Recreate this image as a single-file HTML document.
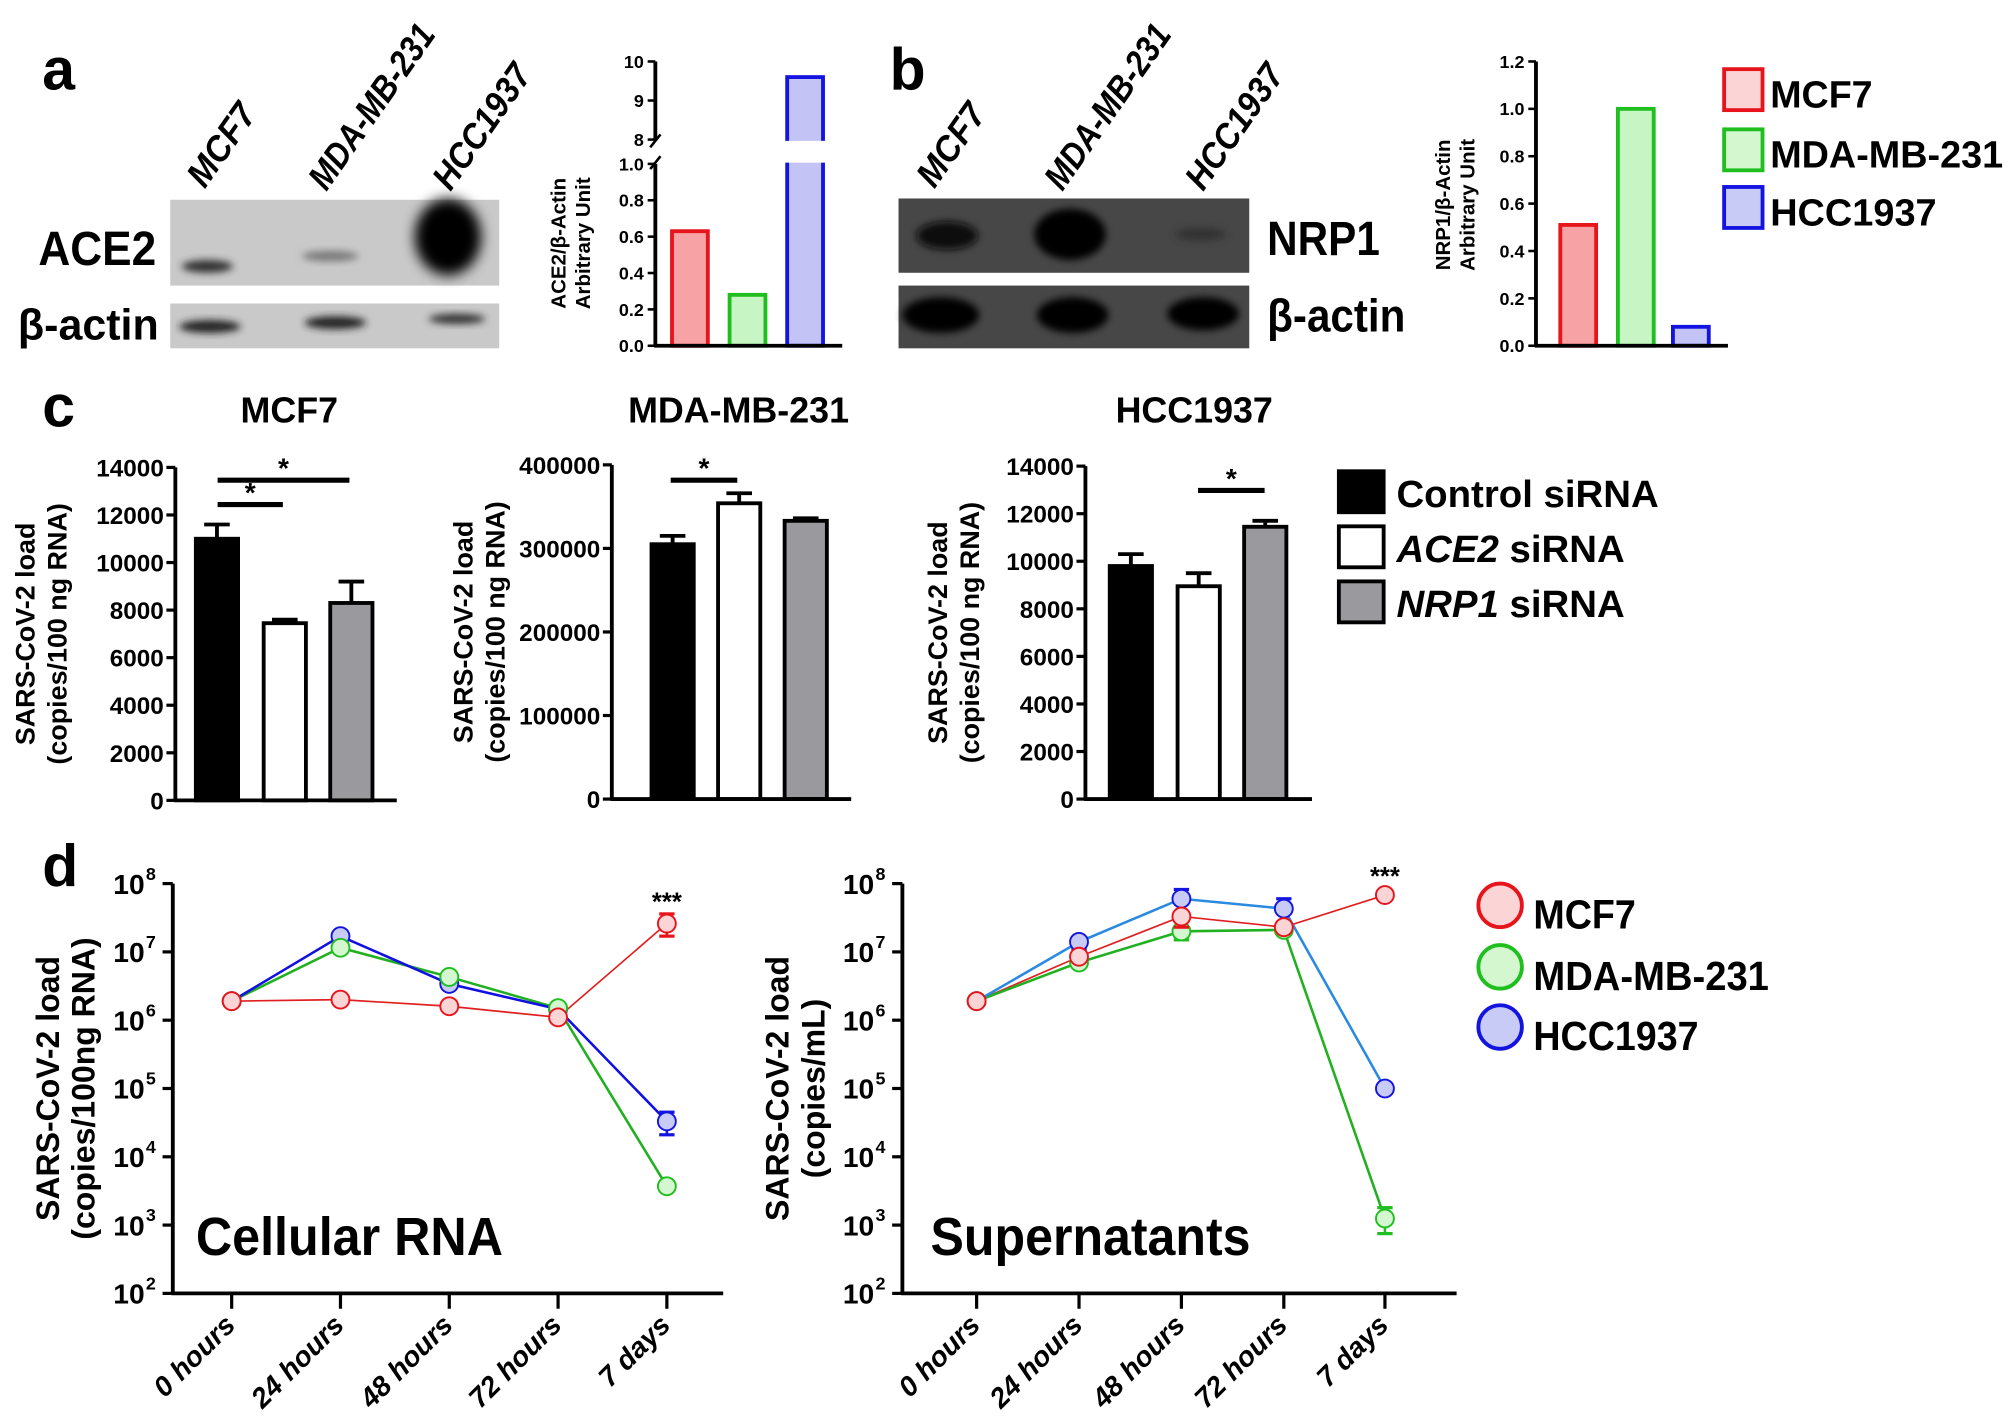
<!DOCTYPE html>
<html><head><meta charset="utf-8"><style>
html,body{margin:0;padding:0;background:#fff;}
svg{display:block;}
text{font-family:"Liberation Sans Narrow","Liberation Sans",sans-serif;font-weight:bold;fill:#000;}
.ax{stroke:#000;stroke-width:3;fill:none;}
.sans{font-family:"Liberation Sans",sans-serif;}
</style></head><body>
<svg id="fig" width="2007" height="1424" viewBox="0 0 1568 1112" preserveAspectRatio="none" xmlns="http://www.w3.org/2000/svg">
<defs>
<filter id="blur" x="-50%" y="-50%" width="200%" height="200%"><feGaussianBlur stdDeviation="5"/></filter>
<filter id="blur2" x="-50%" y="-50%" width="200%" height="200%"><feGaussianBlur stdDeviation="3"/></filter>
</defs>
<text x="33" y="70" font-size="46">a</text>
<text x="695" y="70" font-size="46">b</text>
<text x="33" y="333" font-size="46">c</text>
<text x="33" y="692" font-size="46">d</text>

<g>
<text transform="translate(160,148) rotate(-55)" font-size="28" font-style="italic" textLength="72" lengthAdjust="spacingAndGlyphs">MCF7</text>
<text transform="translate(255,150) rotate(-55)" font-size="28" font-style="italic" textLength="150" lengthAdjust="spacingAndGlyphs">MDA-MB-231</text>
<text transform="translate(352,150) rotate(-55)" font-size="28" font-style="italic" textLength="112" lengthAdjust="spacingAndGlyphs">HCC1937</text>
<rect x="133" y="156" width="257" height="67" fill="#c9c9c9"/>
<ellipse cx="162" cy="208" rx="20" ry="5" fill="#333" filter="url(#blur2)"/>
<ellipse cx="258" cy="200" rx="22" ry="4" fill="#777" filter="url(#blur2)"/>
<ellipse cx="350" cy="185" rx="26" ry="30" fill="#050505" filter="url(#blur)"/>
<rect x="133" y="237" width="257" height="35" fill="#c9c9c9"/>
<ellipse cx="164" cy="255" rx="24" ry="5" fill="#222" filter="url(#blur2)"/>
<ellipse cx="262" cy="252" rx="24" ry="5" fill="#222" filter="url(#blur2)"/>
<ellipse cx="357" cy="249" rx="22" ry="4" fill="#333" filter="url(#blur2)"/>
<text x="30" y="207" font-size="38" textLength="92" lengthAdjust="spacingAndGlyphs">ACE2</text>
<text x="14" y="265" font-size="34" textLength="110" lengthAdjust="spacingAndGlyphs">β-actin</text>
</g>

<g>
<text transform="translate(730,148) rotate(-55)" font-size="28" font-style="italic" textLength="72" lengthAdjust="spacingAndGlyphs">MCF7</text>
<text transform="translate(830,150) rotate(-55)" font-size="28" font-style="italic" textLength="150" lengthAdjust="spacingAndGlyphs">MDA-MB-231</text>
<text transform="translate(940,150) rotate(-55)" font-size="28" font-style="italic" textLength="112" lengthAdjust="spacingAndGlyphs">HCC1937</text>
<rect x="702" y="155" width="274" height="58" fill="#474747"/>
<ellipse cx="740" cy="184" rx="24" ry="11" fill="#080808" filter="url(#blur2)"/>
<ellipse cx="836" cy="183" rx="28" ry="20" fill="#020202" filter="url(#blur2)"/>
<ellipse cx="938" cy="183" rx="20" ry="5" fill="#333" filter="url(#blur2)"/>
<rect x="702" y="223" width="274" height="49" fill="#474747"/>
<ellipse cx="735" cy="246" rx="30" ry="14" fill="#050505" filter="url(#blur2)"/>
<ellipse cx="838" cy="246" rx="28" ry="14" fill="#050505" filter="url(#blur2)"/>
<ellipse cx="940" cy="245" rx="28" ry="13" fill="#050505" filter="url(#blur2)"/>
<text x="990" y="199" font-size="38" textLength="88" lengthAdjust="spacingAndGlyphs">NRP1</text>
<text x="990" y="259" font-size="36" textLength="108" lengthAdjust="spacingAndGlyphs">β-actin</text>
</g>

<g id="charts"></g>
</svg>
<script>
const cellLines = ["MCF7","MDA-MB-231","HCC1937"];
const ace2Values = [0.63, 0.28, 9.6];
const nrp1Values = [0.51, 1.0, 0.08];
const ace2TicksLow = [0,0.2,0.4,0.6,0.8,1.0];
const ace2TicksHigh = [8,9,10];
const nrp1Ticks = [0,0.2,0.4,0.6,0.8,1.0,1.2];
const siGroups = ["Control siRNA","ACE2 siRNA","NRP1 siRNA"];
const mcf7Means = [11000, 7450, 8300];
const mcf7Errs = [600, 150, 900];
const mdaMeans = [305000, 354000, 333000];
const mdaErrs = [10000, 12000, 3000];
const hccMeans = [9800, 8950, 11450];
const hccErrs = [500, 550, 250];
const ticks14k = [0,2000,4000,6000,8000,10000,12000,14000];
const ticks400k = [0,100000,200000,300000,400000];
const timepoints = ["0 hours","24 hours","48 hours","72 hours","7 days"];
const cellMCF7 = [1.9e6, 2.0e6, 1.6e6, 1.1e6, 2.6e7];
const cellMDA = [1.9e6, 1.15e7, 4.3e6, 1.5e6, 3.7e3];
const cellHCC = [1.9e6, 1.7e7, 3.4e6, 1.45e6, 3.3e4];
const cellErrLow = [[0,0,0,0,1.7e7],[0,0,0,0,0],[0,0,0,0,2.1e4]];
const cellErrHigh = [[0,0,0,0,3.6e7],[0,0,0,0,0],[0,0,0,0,4.5e4]];
const supMCF7 = [1.9e6, 8.5e6, 3.3e7, 2.3e7, 6.8e7];
const supMDA = [1.9e6, 7.0e6, 2.0e7, 2.1e7, 1.25e3];
const supHCC = [1.9e6, 1.4e7, 6.0e7, 4.3e7, 1.0e5];
const supErrLow = [[0,0,2.3e7,0,0],[0,0,1.5e7,0,7.5e2],[0,1.1e7,0,0,0]];
const supErrHigh = [[0,0,0,0,0],[0,0,0,0,1.8e3],[0,0,8.2e7,6.0e7,0]];
const logTicks = [2,3,4,5,6,7,8];

const NS="http://www.w3.org/2000/svg";
const root=document.getElementById('charts');
function el(tag,attrs,parent,txt){const e=document.createElementNS(NS,tag);for(const k in attrs)e.setAttribute(k,attrs[k]);if(txt!==undefined)e.textContent=txt;(parent||root).appendChild(e);return e;}
function grp(name){const g=el('g',{});return g;}

const strokeC=["#e8141c","#1fbf1f","#1414e0"];
const fillC=["#f7a3a6","#c8f5c4","#c3c4f5"];
const legFill=["#fbd5d6","#d4f7d0","#c9cbf7"];

(function(){
  const g=grp('ace2-quant-chart');
  const x0=512, y0=270, yLowTop=128, yB8=109, yB10=48;
  const yLow=v=>y0-(v/1.0)*(y0-yLowTop);
  const yHigh=v=>yB8-(v-8)/2*(yB8-yB10);
  const yv=v=>v<=1?yLow(v):yHigh(v);
  const bx=[525,570,615], bw=28;
  ace2Values.forEach((v,i)=>{
    const r=el('rect',{x:bx[i],y:yv(v),width:bw,height:y0-yv(v),fill:fillC[i],stroke:strokeC[i],'stroke-width':3},g);
    
    
    if(v>1){el('rect',{x:bx[i]-3,y:yB8+1,width:bw+6,height:yLowTop-yB8-2,fill:'#fff'},g);}
  });
  el('line',{x1:x0,y1:y0,x2:x0,y2:yLowTop,class:'ax','stroke-width':2.5},g);
  el('line',{x1:x0,y1:yB8,x2:x0,y2:yB10,class:'ax','stroke-width':2.5},g);
  el('line',{x1:x0-4,y1:yLowTop+4,x2:x0+4,y2:yLowTop-6,stroke:'#000','stroke-width':2},g);
  el('line',{x1:x0-4,y1:yB8+6,x2:x0+4,y2:yB8-4,stroke:'#000','stroke-width':2},g);
  el('line',{x1:x0-1,y1:y0,x2:658,y2:y0,class:'ax'},g);
  ace2TicksLow.forEach(t=>{el('line',{x1:x0-6,y1:yLow(t),x2:x0,y2:yLow(t),stroke:'#000','stroke-width':2},g);el('text',{x:x0-9,y:yLow(t)+5,'font-size':14,'text-anchor':'end'},g,t.toFixed(1));});
  ace2TicksHigh.forEach(t=>{el('line',{x1:x0-6,y1:yHigh(t),x2:x0,y2:yHigh(t),stroke:'#000','stroke-width':2},g);el('text',{x:x0-9,y:yHigh(t)+5,'font-size':14,'text-anchor':'end'},g,String(t));});
  el('text',{transform:'translate(442,190) rotate(-90)','font-size':16,'text-anchor':'middle',class:'sans'},g,'ACE2/β-Actin');
  el('text',{transform:'translate(461,190) rotate(-90)','font-size':16,'text-anchor':'middle',class:'sans'},g,'Arbitrary Unit');
})();

(function(){
  const g=grp('nrp1-quant-chart');
  const x0=1200, y0=270, yTop=48;
  const yv=v=>y0-v/1.2*(y0-yTop);
  const bx=[1219,1264,1307], bw=28;
  nrp1Values.forEach((v,i)=>{
    const r=el('rect',{x:bx[i],y:yv(v),width:bw,height:y0-yv(v),fill:fillC[i],stroke:strokeC[i],'stroke-width':3},g);
    
    
  });
  el('line',{x1:x0,y1:y0,x2:x0,y2:yTop,class:'ax','stroke-width':2.5},g);
  el('line',{x1:x0-1,y1:y0,x2:1350,y2:y0,class:'ax'},g);
  nrp1Ticks.forEach(t=>{el('line',{x1:x0-6,y1:yv(t),x2:x0,y2:yv(t),stroke:'#000','stroke-width':2},g);el('text',{x:x0-9,y:yv(t)+5,'font-size':14,'text-anchor':'end'},g,t.toFixed(1));});
  el('text',{transform:'translate(1133,160) rotate(-90)','font-size':16,'text-anchor':'middle',class:'sans'},g,'NRP1/β-Actin');
  el('text',{transform:'translate(1152,160) rotate(-90)','font-size':16,'text-anchor':'middle',class:'sans'},g,'Arbitrary Unit');
  const lg=grp('legend-ab');
  const ly=[54,101,146];
  const lw=[80,182,130];
  cellLines.forEach((n,i)=>{
    el('rect',{x:1347,y:ly[i],width:30,height:32,fill:legFill[i],stroke:strokeC[i],'stroke-width':3},lg);
    const tx=el('text',{x:1383,y:ly[i]+30,'font-size':30,textLength:lw[i],lengthAdjust:'spacingAndGlyphs'},lg,n);
    
    
  });
})();

function barChart(name,title,titleX,x0,y0,yTop,maxV,ticks,means,errs,bx,bw,axEnd,sigs,ylx){
  const g=grp(name);
  const yv=v=>y0-v/maxV*(y0-yTop);
  el('text',{x:titleX,y:330,'font-size':28,'text-anchor':'middle'},g,title);
  const fills=['#000','#fff','#9a9a9e'];
  means.forEach((m,i)=>{
    const top=yv(m+errs[i]);
    el('line',{x1:bx[i]+bw/2,y1:yv(m),x2:bx[i]+bw/2,y2:top,stroke:'#000','stroke-width':3},g);
    el('line',{x1:bx[i]+bw/2-10,y1:top,x2:bx[i]+bw/2+10,y2:top,stroke:'#000','stroke-width':3},g);
    const r=el('rect',{x:bx[i],y:yv(m),width:bw,height:y0-yv(m),fill:fills[i],stroke:'#000','stroke-width':3},g);
    
    
  });
  el('line',{x1:x0,y1:y0,x2:x0,y2:yTop,class:'ax'},g);
  el('line',{x1:x0-1,y1:y0,x2:axEnd,y2:y0,class:'ax'},g);
  ticks.forEach(t=>{el('line',{x1:x0-7,y1:yv(t),x2:x0,y2:yv(t),stroke:'#000','stroke-width':2.5},g);el('text',{x:x0-9,y:yv(t)+7,'font-size':19,'text-anchor':'end'},g,String(t));});
  sigs.forEach(s=>{el('line',{x1:s[0],y1:s[2],x2:s[1],y2:s[2],stroke:'#000','stroke-width':4},g);el('text',{x:(s[0]+s[1])/2,y:s[2]-2,'font-size':22,'text-anchor':'middle'},g,'*');});
  const cy=(y0+yTop)/2;
  el('text',{transform:`translate(${ylx},${cy}) rotate(-90)`,'font-size':21,'text-anchor':'middle',class:'sans'},g,'SARS-CoV-2 load');
  el('text',{transform:`translate(${ylx+25},${cy}) rotate(-90)`,'font-size':21,'text-anchor':'middle',class:'sans'},g,'(copies/100 ng RNA)');
}
barChart('mcf7-sirna-chart','MCF7',226,137,625,365,14000,ticks14k,mcf7Means,mcf7Errs,[153,206,258],33,310,[[170,221,394],[170,273,375]],27);
barChart('mda-sirna-chart','MDA-MB-231',577,478,624,363,400000,ticks400k,mdaMeans,mdaErrs,[509,561,613],33,665,[[524,576,375]],369);
barChart('hcc-sirna-chart','HCC1937',933,848,624,364,14000,ticks14k,hccMeans,hccErrs,[867,920,972],33,1025,[[936,988,383]],740);
(function(){
  const lg=grp('legend-c');
  const fills=['#000','#fff','#9a9a9e'];
  const ly=[368,411,454];
  const labels=[['Control siRNA',''],['ACE2',' siRNA'],['NRP1',' siRNA']];
  labels.forEach((l,i)=>{
    el('rect',{x:1046,y:ly[i],width:35,height:32,fill:fills[i],stroke:'#000','stroke-width':3},lg);
    const t=el('text',{x:1091,y:ly[i]+28,'font-size':30,class:'sans'},lg);
    
    
    if(i===0){t.textContent=l[0];}else{el('tspan',{'font-style':'italic'},t,l[0]);el('tspan',{},t,l[1]);}
  });
})();

function logChart(name,x0,xs,axEnd,series,errL,errH,lineCols,label,labelX,labelW,ylabels,ylx,starY){
  const g=grp(name);
  const y8=690,y2=1010;
  const yv=v=>y2-(Math.log10(v)-2)/6*(y2-y8);
  el('line',{x1:x0,y1:y2,x2:x0,y2:y8,class:'ax'},g);
  el('line',{x1:x0-1,y1:y2,x2:axEnd,y2:y2,class:'ax'},g);
  logTicks.forEach(e=>{const y=y2-(e-2)/6*(y2-y8);el('line',{x1:x0-8,y1:y,x2:x0,y2:y,stroke:'#000','stroke-width':2.5},g);
    el('text',{x:x0-22,y:y+8,'font-size':22,'text-anchor':'end'},g,'10');
    el('text',{x:x0-21,y:y-3,'font-size':14},g,String(e));});
  xs.forEach((x,i)=>{el('line',{x1:x,y1:y2,x2:x,y2:y2+12,stroke:'#000','stroke-width':2.5},g);
    el('text',{transform:`translate(${x+4},${y2+26}) rotate(-45)`,'font-size':22,'font-style':'italic','text-anchor':'end',class:'sans'},g,timepoints[i]);});
  [0,1,2].forEach(si=>{
    const vals=series[si];
    el('polyline',{points:vals.map((v,i)=>xs[i]+','+yv(v)).join(' '),fill:'none',stroke:lineCols[si],'stroke-width':si===0?1.3:2},g);
  });
  [2,1,0].forEach(si=>{
    const vals=series[si];
    vals.forEach((v,i)=>{
      [errL[si][i],errH[si][i]].forEach(ev=>{if(ev>0){const ye=yv(ev);el('line',{x1:xs[i],y1:yv(v),x2:xs[i],y2:ye,stroke:strokeC[si],'stroke-width':2},g);el('line',{x1:xs[i]-6,y1:ye,x2:xs[i]+6,y2:ye,stroke:strokeC[si],'stroke-width':2.5},g);}});
      const c=el('circle',{cx:xs[i],cy:yv(v),r:7,fill:legFill[si],stroke:strokeC[si],'stroke-width':1.5},g);
      
      
    });
  });
  el('text',{x:xs[4],y:starY,'font-size':20,'text-anchor':'middle'},g,'***');
  el('text',{x:labelX,y:980,'font-size':42,textLength:labelW,lengthAdjust:'spacingAndGlyphs'},g,label);
  const cy=850;
  el('text',{transform:`translate(${ylx},${cy}) rotate(-90)`,'font-size':25,'text-anchor':'middle',class:'sans'},g,ylabels[0]);
  el('text',{transform:`translate(${ylx+28},${cy}) rotate(-90)`,'font-size':25,'text-anchor':'middle',class:'sans'},g,ylabels[1]);
}
logChart('cellular-rna-chart',135,[181,266,351,436,521],565,[cellMCF7,cellMDA,cellHCC],cellErrLow,cellErrHigh,['#e02020','#20b020','#1010e0'],'Cellular RNA',153,240,['SARS-CoV-2 load','(copies/100ng RNA)'],46,711);
logChart('supernatants-chart',705,[763,843,923,1003,1082],1138,[supMCF7,supMDA,supHCC],supErrLow,supErrHigh,['#e02020','#20b020','#2a8ae0'],'Supernatants',727,250,['SARS-CoV-2 load','(copies/mL)'],616,691);
(function(){
  const lg=grp('legend-d');
  const ly=[707,755,802];
  const lw=[80,184,129];
  cellLines.forEach((n,i)=>{
    el('circle',{cx:1172,cy:ly[i],r:17,fill:legFill[i],stroke:strokeC[i],'stroke-width':3},lg);
    const t=el('text',{x:1198,y:ly[i]+18,'font-size':32,textLength:lw[i],lengthAdjust:'spacingAndGlyphs'},lg,n);
    
    
  });
})();
</script>
</body></html>
